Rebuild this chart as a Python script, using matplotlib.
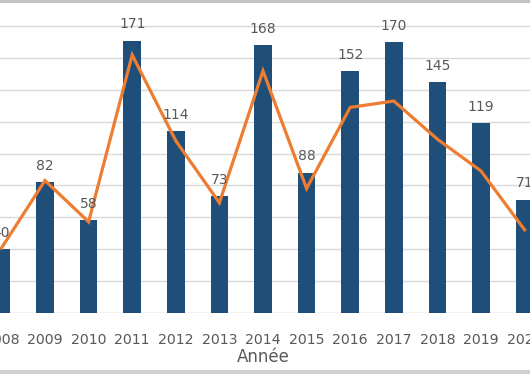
import matplotlib
matplotlib.use("Agg")
import matplotlib.pyplot as plt
from matplotlib.lines import Line2D

years = ["2008", "2009", "2010", "2011", "2012", "2013", "2014",
         "2015", "2016", "2017", "2018", "2019", "2020"]
bar_values = [40, 82, 58, 171, 114, 73, 168, 88, 152, 170, 145, 119, 71]
line_values = [40.5, 83, 57, 162, 108, 69, 152, 78, 129, 133, 109, 89, 52]
y_ticks = [0, 20, 40, 60, 80, 100, 120, 140, 160, 180]

W, H = 530, 374
fig = plt.figure(figsize=(W / 100, H / 100), dpi=100)
base_px = 312.5
ax = fig.add_axes([0, (H - base_px) / H, 1, base_px / H])

x = list(range(len(years)))
ax.bar(x, bar_values, width=0.40, color="#1F4E79", zorder=2)
ax.plot(x, line_values, color="#ED7D31", lw=2.3, zorder=3,
        solid_joinstyle="miter")

for xi, v in zip(x, bar_values):
    ax.annotate(str(v), (xi, v), xytext=(0, 8.8), textcoords="offset points",
                ha="center", va="baseline", fontsize=10, color="#595959",
                family="DejaVu Sans", annotation_clip=False)

ax.set_xlim(-0.032, 12.124)
ax.set_ylim(0, base_px / 1.59)
ax.set_yticks(y_ticks)
ax.yaxis.grid(True, color="#D9D9D9", lw=1)
ax.set_axisbelow(True)
for s in ax.spines.values():
    s.set_visible(False)
ax.axhline(0, color="#D9D9D9", lw=1, zorder=1)
ax.set_xticks(x)
ax.set_xticklabels(years, fontsize=10.2, color="#595959", family="DejaVu Sans")
ax.tick_params(axis="x", length=0, pad=15)
ax.tick_params(axis="y", length=0, labelleft=False)

fig.text(263 / W, 1 - 357 / H, "Année", ha="center", va="center",
         fontsize=12, color="#595959", family="DejaVu Sans")

fig.add_artist(Line2D([0, 1], [1 - 1 / H, 1 - 1 / H], transform=fig.transFigure,
                      color="#BFBFBF", lw=2))
fig.add_artist(Line2D([0, 1], [2 / H, 2 / H], transform=fig.transFigure,
                      color="#D0D0D0", lw=3))

fig.savefig("out.png", dpi=100)
